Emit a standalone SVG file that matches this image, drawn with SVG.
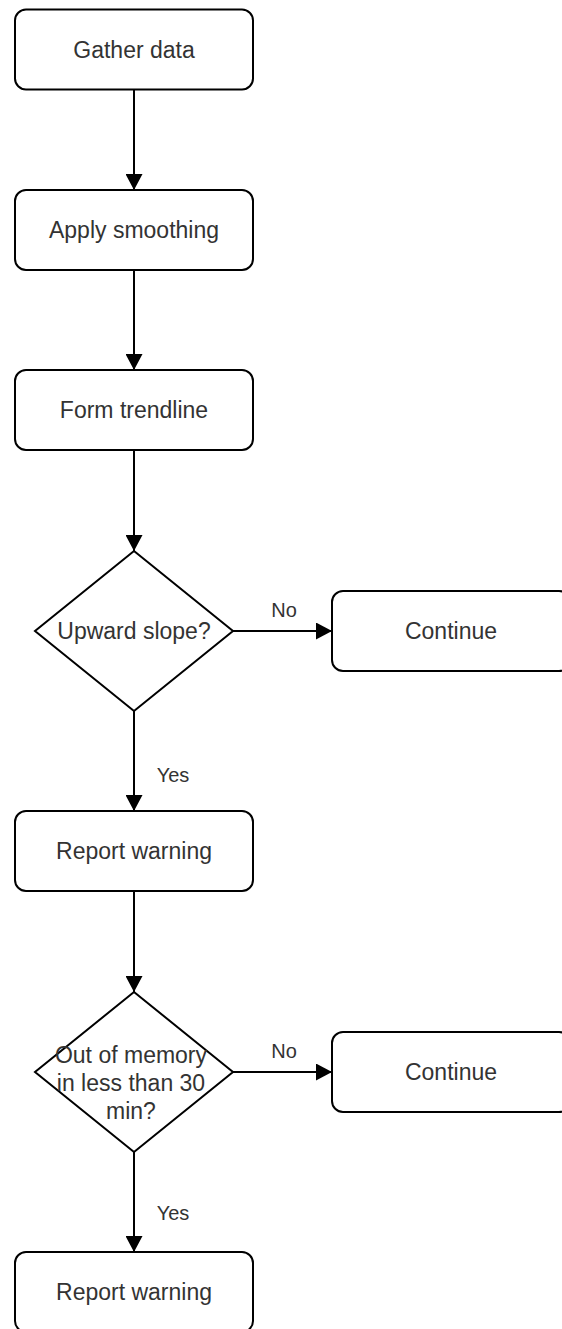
<svg xmlns="http://www.w3.org/2000/svg" width="562" height="1329" viewBox="0 0 562 1329">
  <style>
    .box { fill: #ffffff; stroke: #000000; stroke-width: 2; }
    .edge { fill: none; stroke: #000000; stroke-width: 2; }
    .t { font-family: "Liberation Sans", Arial, sans-serif; font-size: 23px; fill: #333333; text-anchor: middle; }
    .lbl { font-family: "Liberation Sans", Arial, sans-serif; font-size: 20px; fill: #333333; text-anchor: middle; }
  </style>
  <defs>
    <marker id="arrow" markerUnits="userSpaceOnUse" markerWidth="16" markerHeight="17" refX="16" refY="8.5" orient="auto">
      <path d="M0,0 L16,8.5 L0,17 Z" fill="#000000"/>
    </marker>
  </defs>
  <rect width="562" height="1329" fill="#ffffff"/>

  <g id="connectors">
    <line class="edge" x1="134" y1="89.5" x2="134" y2="190" marker-end="url(#arrow)"/>
    <line class="edge" x1="134" y1="270" x2="134" y2="370" marker-end="url(#arrow)"/>
    <line class="edge" x1="134" y1="450" x2="134" y2="551" marker-end="url(#arrow)"/>
    <line class="edge" x1="233" y1="631" x2="332" y2="631" marker-end="url(#arrow)"/>
    <text class="lbl" x="284" y="617">No</text>
    <line class="edge" x1="134" y1="711" x2="134" y2="811" marker-end="url(#arrow)"/>
    <text class="lbl" x="173" y="782">Yes</text>
    <line class="edge" x1="134" y1="891" x2="134" y2="992" marker-end="url(#arrow)"/>
    <line class="edge" x1="233" y1="1072" x2="332" y2="1072" marker-end="url(#arrow)"/>
    <text class="lbl" x="284" y="1058">No</text>
    <line class="edge" x1="134" y1="1152" x2="134" y2="1252" marker-end="url(#arrow)"/>
    <text class="lbl" x="173" y="1220">Yes</text>
  </g>

  <g id="gather-data">
    <rect class="box" x="15" y="9.5" width="238" height="80" rx="11" ry="11"/>
    <text class="t" x="134" y="58">Gather data</text>
  </g>
  <g id="apply-smoothing">
    <rect class="box" x="15" y="190" width="238" height="80" rx="11" ry="11"/>
    <text class="t" x="134" y="238">Apply smoothing</text>
  </g>
  <g id="form-trendline">
    <rect class="box" x="15" y="370" width="238" height="80" rx="11" ry="11"/>
    <text class="t" x="134" y="418">Form trendline</text>
  </g>
  <g id="upward-slope">
    <polygon class="box" points="134,551 233,631 134,711 35,631"/>
    <text class="t" x="134" y="639">Upward slope?</text>
  </g>
  <g id="continue-1">
    <rect class="box" x="332" y="591" width="238" height="80" rx="11" ry="11"/>
    <text class="t" x="451" y="639">Continue</text>
  </g>
  <g id="report-warning-1">
    <rect class="box" x="15" y="811" width="238" height="80" rx="11" ry="11"/>
    <text class="t" x="134" y="859">Report warning</text>
  </g>
  <g id="out-of-memory">
    <polygon class="box" points="134,992 233,1072 134,1152 35,1072"/>
    <text class="t" x="131" y="1063">Out of memory</text>
    <text class="t" x="131" y="1091">in less than 30</text>
    <text class="t" x="131" y="1119">min?</text>
  </g>
  <g id="continue-2">
    <rect class="box" x="332" y="1032" width="238" height="80" rx="11" ry="11"/>
    <text class="t" x="451" y="1080">Continue</text>
  </g>
  <g id="report-warning-2">
    <rect class="box" x="15" y="1252" width="238" height="80" rx="11" ry="11"/>
    <text class="t" x="134" y="1300">Report warning</text>
  </g>
</svg>
